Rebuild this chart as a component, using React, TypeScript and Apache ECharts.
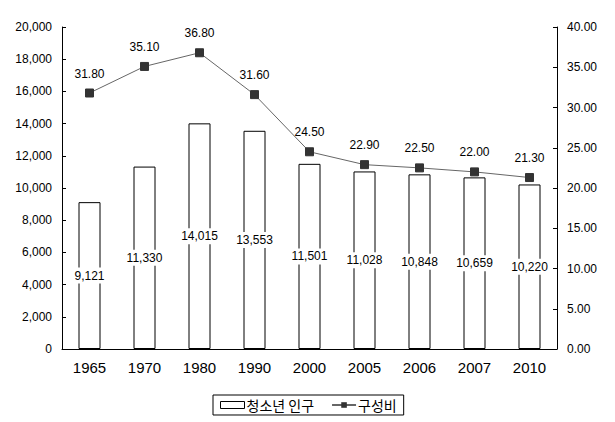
import React, { useEffect, useRef } from "react";
import * as echarts from "echarts";

const categories = ["1965", "1970", "1980", "1990", "2000", "2005", "2006", "2007", "2010"];
const youthPopulation = [9121, 11330, 14015, 13553, 11501, 11028, 10848, 10659, 10220];
const shareRatio = [31.8, 35.1, 36.8, 31.6, 24.5, 22.9, 22.5, 22.0, 21.3];
const barName = "청소년 인구";
const lineName = "구성비";

const FONT = "'Liberation Sans', 'Noto Sans CJK KR', sans-serif";
const KFONT = "'Noto Sans CJK KR', sans-serif";

export default function App() {
  const ref = useRef<HTMLDivElement>(null);
  useEffect(() => {
    if (!ref.current) return;
    const chart = echarts.init(ref.current, undefined, { renderer: "svg" });
    chart.setOption({
      animation: false,
      backgroundColor: "#ffffff",
      textStyle: { fontFamily: FONT },
      grid: { left: 62, right: 58, top: 27, bottom: 73 },
      legend: {
        top: 395,
        left: 213,
        itemWidth: 24,
        itemHeight: 7,
        itemGap: 17,
        borderColor: "#000",
        borderWidth: 1,
        padding: [3, 7],
        textStyle: { fontSize: 14, color: "#000", fontFamily: KFONT, padding: [0, 0, 0, -3] },
        data: [
          { name: barName, icon: "rect", itemStyle: { color: "#fff", borderColor: "#000", borderWidth: 1 } },
          { name: lineName },
        ],
      },
      xAxis: {
        type: "category",
        data: categories,
        axisLine: { lineStyle: { color: "#000", width: 1 } },
        axisTick: { inside: true, length: 4, lineStyle: { color: "#000" } },
        axisLabel: { color: "#000", fontSize: 15, margin: 11, fontFamily: FONT },
      },
      yAxis: [
        {
          type: "value",
          min: 0,
          max: 20000,
          interval: 2000,
          splitLine: { show: false },
          axisLine: { show: true, lineStyle: { color: "#000" } },
          axisTick: { show: true, inside: true, length: 4, lineStyle: { color: "#000" } },
          axisLabel: {
            color: "#000",
            fontSize: 12,
            margin: 10,
            fontFamily: FONT,
            formatter: (v: number) => v.toLocaleString("en-US"),
          },
        },
        {
          type: "value",
          min: 0,
          max: 40,
          interval: 5,
          splitLine: { show: false },
          axisLine: { show: true, lineStyle: { color: "#000" } },
          axisTick: { show: true, inside: true, length: 4, lineStyle: { color: "#000" } },
          axisLabel: {
            color: "#000",
            fontSize: 12,
            margin: 10,
            fontFamily: FONT,
            formatter: (v: number) => v.toFixed(2),
          },
        },
      ],
      series: [
        {
          name: barName,
          type: "bar",
          data: youthPopulation,
          barWidth: "40%",
          itemStyle: { color: "#ffffff", borderColor: "#000", borderWidth: 1 },
          label: {
            show: true,
            position: "inside",
            color: "#000",
            fontSize: 12,
            fontFamily: FONT,
            backgroundColor: "#ffffff",
            padding: [2, 1],
            formatter: (p: any) => Number(p.value).toLocaleString("en-US"),
          },
        },
        {
          name: lineName,
          type: "line",
          yAxisIndex: 1,
          data: shareRatio,
          symbol: "rect",
          symbolSize: 8,
          lineStyle: { color: "#666666", width: 1 },
          itemStyle: { color: "#333333", borderColor: "#333333" },
          label: {
            show: true,
            position: "top",
            distance: 9,
            color: "#000",
            fontSize: 12,
            fontFamily: FONT,
            formatter: (p: any) => Number(p.value).toFixed(2),
          },
        },
      ],
    });
    return () => chart.dispose();
  }, []);
  return (
    <div
      ref={ref}
      style={{ position: "absolute", left: 0, top: 0, width: 615, height: 422 }}
    />
  );
}
